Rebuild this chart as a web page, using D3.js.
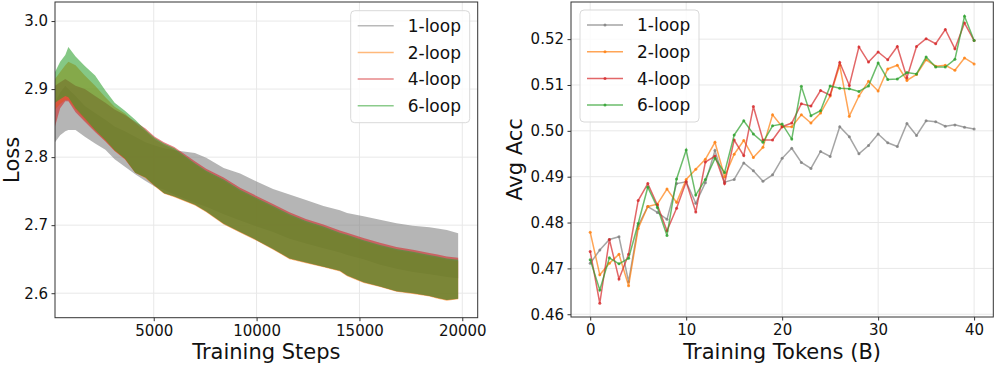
<!DOCTYPE html>
<html>
<head>
<meta charset="utf-8">
<script src="https://cdn.jsdelivr.net/npm/d3@7"></script>
<style>
body { margin: 0; background: #fff; }
text { font-family: "DejaVu Sans", sans-serif; fill: #111; }
</style>
</head>
<body>
<svg id="chart" width="996" height="366"></svg>
<script>
var seriesNames = ['1-loop', '2-loop', '4-loop', '6-loop'];
var seriesColors = ['#7f7f7f', '#ff7f0e', '#d62728', '#2ca02c'];

// left panel: loss envelope (top / bottom of the noisy curve)
var lossSteps = [200, 450, 700, 850, 1200, 1650, 2150, 2650, 3100, 3600, 4100, 4600, 5050, 5500, 6000, 7000, 7550,
    8400, 9200, 10000, 10800, 11600, 12400, 13250, 14050, 14400, 15200, 16000, 16800, 17600, 18400, 18800, 19250, 19800];

var loss1Upper = [2.880, 2.895, 2.905, 2.900, 2.890, 2.875, 2.865, 2.855, 2.845, 2.838, 2.830, 2.822, 2.817, 2.813, 2.810, 2.806, 2.799,
    2.784, 2.776, 2.764, 2.753, 2.745, 2.737, 2.728, 2.722, 2.718, 2.713, 2.708, 2.703, 2.699, 2.697, 2.695, 2.693, 2.688];
var loss1Lower = [2.822, 2.832, 2.838, 2.840, 2.840, 2.830, 2.820, 2.811, 2.797, 2.786, 2.775, 2.765, 2.757, 2.752, 2.745, 2.733, 2.727,
    2.716, 2.707, 2.698, 2.690, 2.680, 2.673, 2.666, 2.660, 2.656, 2.650, 2.642, 2.636, 2.631, 2.628, 2.626, 2.624, 2.622];

var loss2Upper = [2.915, 2.925, 2.935, 2.940, 2.935, 2.920, 2.905, 2.888, 2.874, 2.864, 2.850, 2.838, 2.826, 2.818, 2.811, 2.789, 2.778,
    2.765, 2.750, 2.738, 2.726, 2.714, 2.704, 2.696, 2.687, 2.684, 2.676, 2.669, 2.663, 2.659, 2.654, 2.652, 2.649, 2.647];
var loss2Lower = [2.870, 2.878, 2.884, 2.884, 2.870, 2.855, 2.839, 2.824, 2.809, 2.797, 2.777, 2.769, 2.757, 2.746, 2.741, 2.729, 2.719,
    2.701, 2.689, 2.677, 2.664, 2.650, 2.644, 2.638, 2.632, 2.625, 2.615, 2.609, 2.602, 2.599, 2.595, 2.592, 2.589, 2.591];

var loss4Upper = [2.905, 2.910, 2.915, 2.912, 2.905, 2.900, 2.890, 2.880, 2.870, 2.862, 2.852, 2.842, 2.830, 2.822, 2.815, 2.794, 2.783,
    2.770, 2.755, 2.743, 2.731, 2.719, 2.709, 2.701, 2.692, 2.689, 2.681, 2.674, 2.668, 2.664, 2.659, 2.657, 2.654, 2.652];
var loss4Lower = [2.845, 2.872, 2.882, 2.882, 2.866, 2.852, 2.837, 2.823, 2.809, 2.797, 2.777, 2.770, 2.758, 2.747, 2.742, 2.730, 2.720,
    2.702, 2.690, 2.678, 2.665, 2.651, 2.645, 2.639, 2.633, 2.626, 2.616, 2.610, 2.603, 2.600, 2.596, 2.593, 2.590, 2.592];

var loss6Upper = [2.925, 2.940, 2.950, 2.962, 2.948, 2.934, 2.920, 2.898, 2.880, 2.868, 2.855, 2.840, 2.828, 2.820, 2.813, 2.791, 2.780,
    2.767, 2.752, 2.740, 2.728, 2.716, 2.706, 2.698, 2.689, 2.686, 2.678, 2.671, 2.665, 2.661, 2.656, 2.654, 2.651, 2.649];
var loss6Lower = [2.880, 2.885, 2.890, 2.888, 2.872, 2.857, 2.840, 2.825, 2.810, 2.798, 2.777, 2.770, 2.758, 2.747, 2.742, 2.730, 2.720,
    2.702, 2.690, 2.678, 2.665, 2.651, 2.645, 2.639, 2.633, 2.626, 2.616, 2.610, 2.603, 2.600, 2.596, 2.593, 2.590, 2.592];

var stepTicks = [5000, 10000, 15000, 20000];
var lossTicks = [2.6, 2.7, 2.8, 2.9, 3.0];

// right panel: average accuracy per checkpoint
var tokens = [0, 1, 2, 3, 4, 5, 6, 7, 8, 9, 10, 11, 12, 13, 14, 15, 16, 17, 18, 19, 20,
    21, 22, 23, 24, 25, 26, 27, 28, 29, 30, 31, 32, 33, 34, 35, 36, 37, 38, 39, 40];
var acc1 = [0.4711, 0.4740, 0.4763, 0.4769, 0.4671, 0.4793, 0.4835, 0.4822, 0.4807, 0.4885, 0.4889, 0.4842, 0.4887, 0.4957,
    0.4888, 0.4894, 0.4930, 0.4913, 0.4890, 0.4904, 0.4940, 0.4962, 0.4931, 0.4918, 0.4955, 0.4944, 0.5009, 0.4987, 0.4950,
    0.4968, 0.4993, 0.4974, 0.4966, 0.5016, 0.4990, 0.5022, 0.5020, 0.5010, 0.5013, 0.5008, 0.5004];
var acc2 = [0.4779, 0.4686, 0.4711, 0.4731, 0.4662, 0.4787, 0.4835, 0.4840, 0.4873, 0.4844, 0.4894, 0.4916, 0.4938, 0.4975,
    0.4900, 0.4949, 0.4979, 0.4942, 0.4964, 0.5035, 0.5009, 0.5009, 0.5035, 0.5017, 0.5039, 0.5076, 0.5143, 0.5032, 0.5076,
    0.5108, 0.5087, 0.5135, 0.5143, 0.5110, 0.5123, 0.5155, 0.5141, 0.5143, 0.5132, 0.5159, 0.5146];
var acc4 = [0.4737, 0.4624, 0.4763, 0.4677, 0.4731, 0.4848, 0.4885, 0.4838, 0.4782, 0.4831, 0.4889, 0.4823, 0.4932, 0.4945,
    0.4885, 0.4980, 0.4946, 0.5053, 0.4980, 0.4980, 0.5009, 0.5017, 0.5059, 0.5054, 0.5088, 0.5078, 0.5149, 0.5099, 0.5183,
    0.5150, 0.5172, 0.5155, 0.5184, 0.5116, 0.5184, 0.5201, 0.5190, 0.5221, 0.5179, 0.5235, 0.5197];
var acc6 = [0.4719, 0.4653, 0.4723, 0.4710, 0.4722, 0.4798, 0.4877, 0.4833, 0.4772, 0.4895, 0.4958, 0.4860, 0.4894, 0.4940,
    0.4909, 0.4991, 0.5022, 0.4993, 0.4975, 0.5011, 0.5015, 0.4982, 0.5097, 0.5033, 0.5044, 0.5098, 0.5093, 0.5092, 0.5086,
    0.5098, 0.5148, 0.5112, 0.5113, 0.5127, 0.5124, 0.5161, 0.5139, 0.5139, 0.5156, 0.5250, 0.5197];

var tokenTicks = [0, 10, 20, 30, 40];
var accTicks = [0.46, 0.47, 0.48, 0.49, 0.50, 0.51, 0.52];

var svg = d3.select('#chart');

function drawGrid (box, x, y, xTicks, yTicks) {
    var g = svg.append('g');
    g.selectAll('line.gx').data(xTicks).enter().append('line')
      .attr('x1', function (d) { return x(d); }).attr('x2', function (d) { return x(d); })
      .attr('y1', box.top).attr('y2', box.bottom)
      .attr('stroke', '#e8e8e8').attr('stroke-width', 1);
    g.selectAll('line.gy').data(yTicks).enter().append('line')
      .attr('x1', box.left).attr('x2', box.right)
      .attr('y1', function (d) { return y(d); }).attr('y2', function (d) { return y(d); })
      .attr('stroke', '#e8e8e8').attr('stroke-width', 1);
}

function drawAxes (box, x, y, xTicks, yTicks, yFormat, xLabel, yLabel, yLabelX) {
    var ax = svg.append('g')
      .attr('transform', 'translate(0,' + box.bottom + ')')
      .call(d3.axisBottom(x).tickValues(xTicks).tickSize(3.5).tickPadding(4).tickFormat(d3.format('d')));
    var ay = svg.append('g')
      .attr('transform', 'translate(' + box.left + ',0)')
      .call(d3.axisLeft(y).tickValues(yTicks).tickSize(3.5).tickPadding(3.5).tickFormat(yFormat));
    [ax, ay].forEach(function (a) {
        a.select('.domain').remove();
        a.selectAll('line').attr('stroke', '#333').attr('stroke-width', 1);
        a.selectAll('text').attr('font-size', 15).attr('font-family', '"DejaVu Sans", sans-serif').attr('fill', '#111');
    });
    svg.append('rect')
      .attr('x', box.left).attr('y', box.top)
      .attr('width', box.right - box.left).attr('height', box.bottom - box.top)
      .attr('fill', 'none').attr('stroke', '#333').attr('stroke-width', 1);
    svg.append('text')
      .attr('x', (box.left + box.right) / 2).attr('y', 358.5)
      .attr('text-anchor', 'middle').attr('font-size', 21)
      .text(xLabel);
    svg.append('text')
      .attr('transform', 'translate(' + yLabelX + ',' + (box.top + box.bottom) / 2 + ') rotate(-90)')
      .attr('text-anchor', 'middle').attr('font-size', 21)
      .text(yLabel);
}

function drawLegend (lx, ly, withMarker) {
    var lg = svg.append('g').attr('transform', 'translate(' + lx + ',' + ly + ')');
    lg.append('rect')
      .attr('width', 119).attr('height', 112).attr('rx', 4)
      .attr('fill', '#fff').attr('fill-opacity', 0.8)
      .attr('stroke', '#d9d9d9').attr('stroke-width', 1);
    seriesNames.forEach(function (name, i) {
        var cy = 15 + i * 26.7;
        lg.append('line')
          .attr('x1', 7).attr('x2', 43).attr('y1', cy).attr('y2', cy)
          .attr('stroke', seriesColors[i]).attr('stroke-width', 1.5)
          .attr('stroke-opacity', withMarker ? 0.7 : 0.55);
        if (withMarker) {
            lg.append('circle').attr('cx', 25).attr('cy', cy).attr('r', 1.5)
              .attr('fill', seriesColors[i]).attr('fill-opacity', 0.8);
        }
        lg.append('text')
          .attr('x', 57).attr('y', cy).attr('dy', '0.36em')
          .attr('font-size', 17)
          .text(name);
    });
}

// ---------- left panel ----------
var boxL = {left: 55, right: 477.7, top: 2, bottom: 317.7};
var xL = d3.scaleLinear().domain([200, 20750]).range([boxL.left, boxL.right]);
var yL = d3.scaleLinear().domain([2.564, 3.028]).range([boxL.bottom, boxL.top]);

drawGrid(boxL, xL, yL, stepTicks, lossTicks);

svg.append('clipPath').attr('id', 'clipL').append('rect')
  .attr('x', boxL.left).attr('y', boxL.top)
  .attr('width', boxL.right - boxL.left).attr('height', boxL.bottom - boxL.top);

var lossBands = [
    {up: loss1Upper, lo: loss1Lower},
    {up: loss2Upper, lo: loss2Lower},
    {up: loss4Upper, lo: loss4Lower},
    {up: loss6Upper, lo: loss6Lower}
];

var band = d3.area()
  .x(function (d) { return xL(d.s); })
  .y0(function (d) { return yL(d.lo); })
  .y1(function (d) { return yL(d.up); });

var gL = svg.append('g').attr('clip-path', 'url(#clipL)');
lossBands.forEach(function (b, i) {
    var pts = lossSteps.map(function (s, k) { return {s: s, up: b.up[k], lo: b.lo[k]}; });
    gL.append('path')
      .attr('d', band(pts))
      .attr('fill', seriesColors[i]).attr('fill-opacity', 0.58);
});

drawAxes(boxL, xL, yL, stepTicks, lossTicks, d3.format('.1f'), 'Training Steps', 'Loss', 18.5);
drawLegend(350.7, 10.7, false);

// ---------- right panel ----------
var boxR = {left: 571, right: 993.3, top: 2, bottom: 317};
var xR = d3.scaleLinear().domain([-2, 42]).range([boxR.left, boxR.right]);
var yR = d3.scaleLinear().domain([0.4594, 0.5281]).range([boxR.bottom, boxR.top]);

drawGrid(boxR, xR, yR, tokenTicks, accTicks);

var accSeries = [acc1, acc2, acc4, acc6];
var line = d3.line()
  .x(function (d) { return xR(d.t); })
  .y(function (d) { return yR(d.v); });

accSeries.forEach(function (vals, i) {
    var pts = tokens.map(function (t, k) { return {t: t, v: vals[k]}; });
    var g = svg.append('g');
    g.append('path')
      .attr('d', line(pts))
      .attr('fill', 'none')
      .attr('stroke', seriesColors[i]).attr('stroke-opacity', 0.7).attr('stroke-width', 1.5);
    g.selectAll('circle').data(pts).enter().append('circle')
      .attr('cx', function (d) { return xR(d.t); })
      .attr('cy', function (d) { return yR(d.v); })
      .attr('r', 1.5)
      .attr('fill', seriesColors[i]).attr('fill-opacity', 0.8);
});

drawAxes(boxR, xR, yR, tokenTicks, accTicks, d3.format('.2f'), 'Training Tokens (B)', 'Avg Acc', 522);
drawLegend(580, 10, true);
</script>
</body>
</html>
